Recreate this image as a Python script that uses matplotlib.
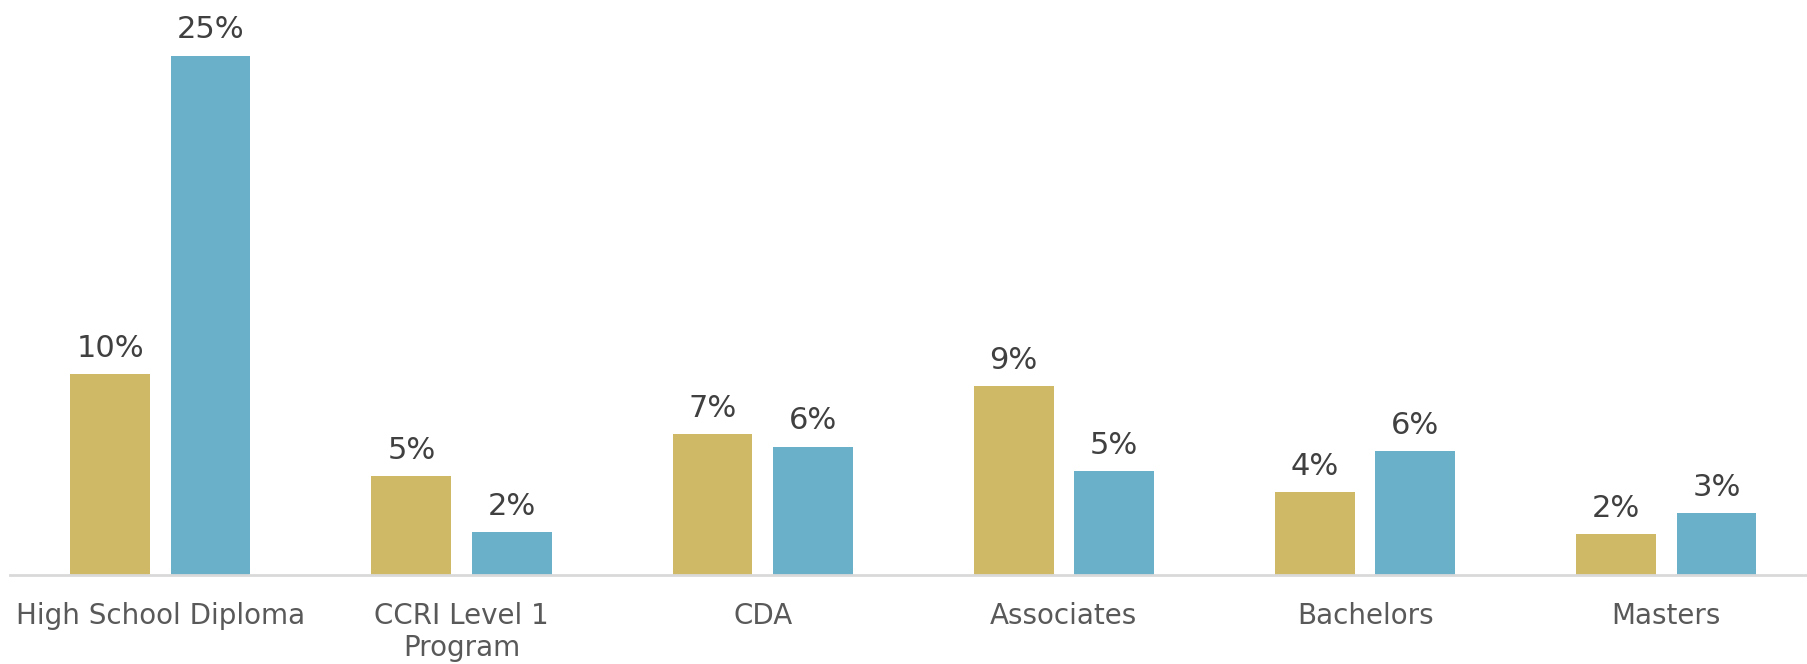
import matplotlib.pyplot as plt
import numpy as np


# Kategorie wykształcenia i wartości procentowe dwóch serii
kategorie = ["High School Diploma", "CCRI Level 1\nProgram", "CDA",
             "Associates", "Bachelors", "Masters"]
seria_1 = [9.7, 4.8, 6.8, 9.1, 4.0, 2.0]
seria_2 = [25.0, 2.1, 6.2, 5.0, 6.0, 3.0]

kolor_1 = "#CFB866"
kolor_2 = "#6BB0C9"


def podpisz(ax, slupki):
    """
    Dodaje etykiety z wartością procentową nad każdym słupkiem.
    """
    for s in slupki:
        h = s.get_height()
        ax.annotate(f"{h:.0f}%", (s.get_x() + s.get_width() / 2, h),
                    xytext=(0, 8), textcoords="offset points",
                    ha="center", va="bottom", fontsize=22, color="#404040")


def main():
    """
    Rysuje wykres słupkowy grupowany i zapisuje go do pliku.
    """
    plt.rcParams["font.family"] = ["DejaVu Sans"]

    fig = plt.figure(figsize=(18.08, 6.64), dpi=100)
    ax = fig.add_axes([0.0054, 0.1333, 0.9995, 0.8667])

    x = np.arange(len(kategorie))
    szer = 0.265
    odstep = 0.1667

    s1 = ax.bar(x - odstep, seria_1, szer, color=kolor_1)
    s2 = ax.bar(x + odstep, seria_2, szer, color=kolor_2)
    podpisz(ax, s1)
    podpisz(ax, s2)

    ax.set_xlim(-0.5, 5.5)
    ax.set_ylim(0, 27.67)
    ax.set_xticks(x)
    ax.set_xticklabels(kategorie, fontsize=20, color="#595959",
                       linespacing=1.2)
    ax.tick_params(axis="x", length=0, pad=19)
    ax.set_yticks([])

    for strona in ["top", "right", "left"]:
        ax.spines[strona].set_visible(False)
    ax.spines["bottom"].set_color("#D9D9D9")
    ax.spines["bottom"].set_linewidth(2)

    plt.savefig("out.png", dpi=100)


if __name__ == "__main__":
    main()
